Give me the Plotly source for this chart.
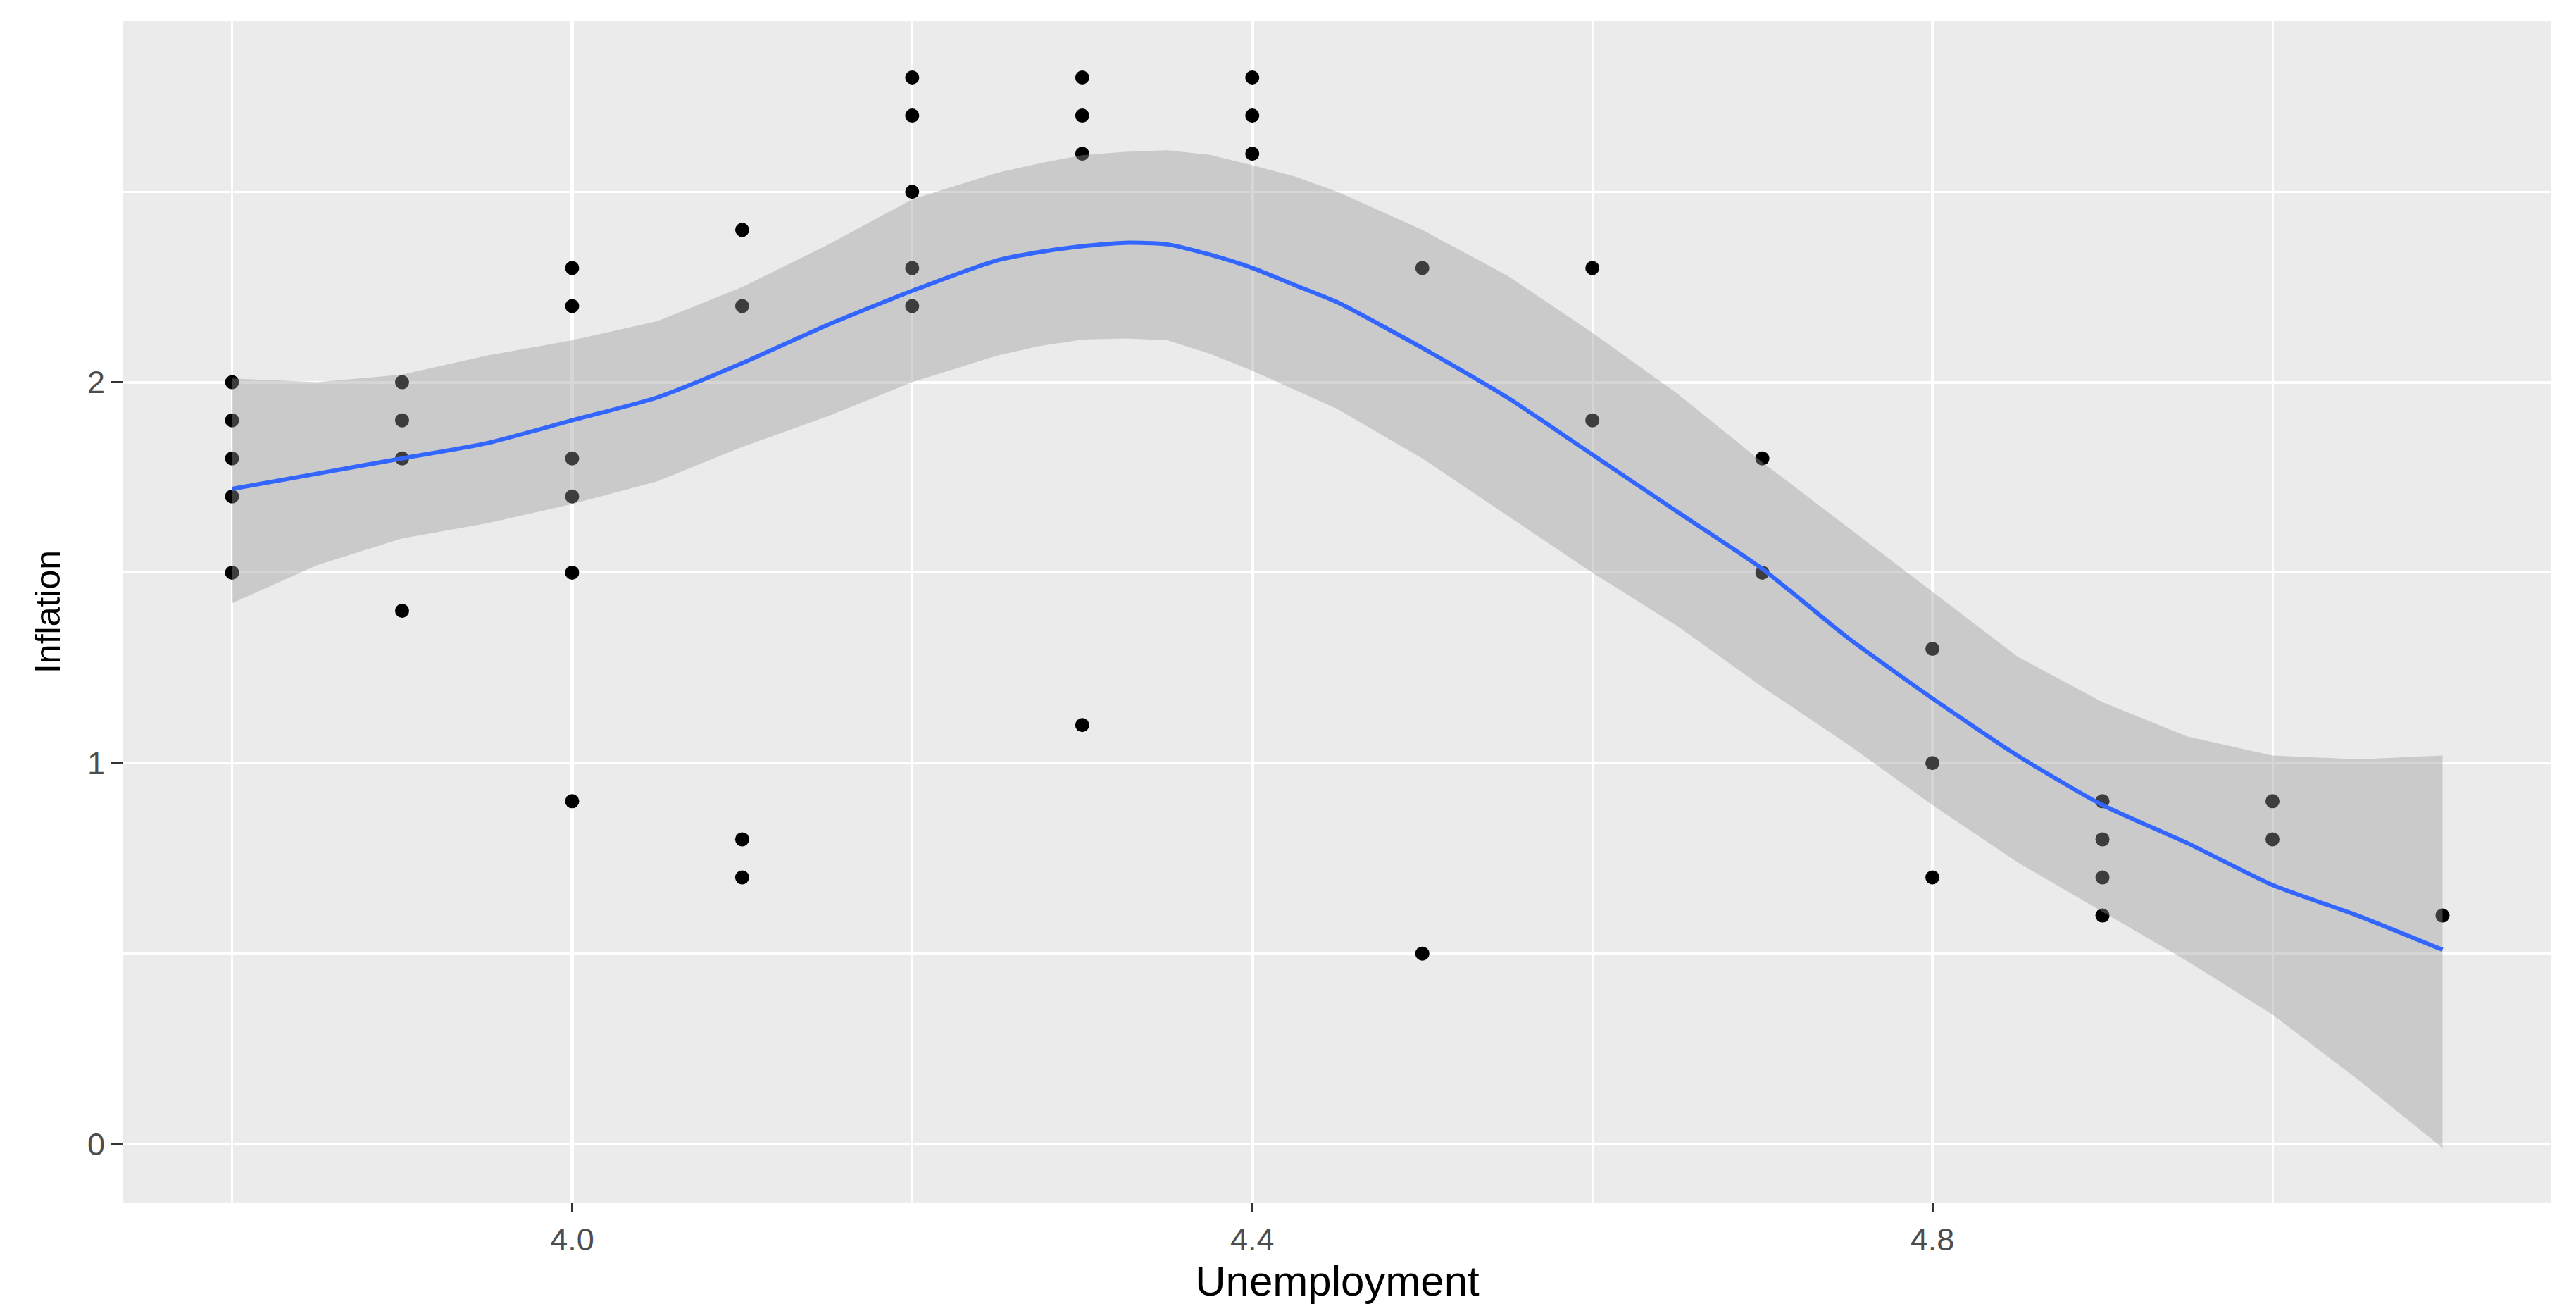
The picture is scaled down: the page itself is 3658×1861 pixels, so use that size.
import plotly.graph_objects as go

# Observed data points
unemployment = [3.8, 3.8, 3.8, 3.8, 3.8,
                3.9, 3.9, 3.9, 3.9,
                4.0, 4.0, 4.0, 4.0, 4.0, 4.0,
                4.1, 4.1, 4.1, 4.1,
                4.2, 4.2, 4.2, 4.2, 4.2,
                4.3, 4.3, 4.3, 4.3,
                4.4, 4.4, 4.4,
                4.5, 4.5,
                4.6, 4.6,
                4.7, 4.7,
                4.8, 4.8, 4.8,
                4.9, 4.9, 4.9, 4.9,
                5.0, 5.0,
                5.1]
inflation = [2.0, 1.9, 1.8, 1.7, 1.5,
             2.0, 1.9, 1.8, 1.4,
             2.3, 2.2, 1.8, 1.7, 1.5, 0.9,
             2.4, 2.2, 0.8, 0.7,
             2.8, 2.7, 2.5, 2.3, 2.2,
             2.8, 2.7, 2.6, 1.1,
             2.8, 2.7, 2.6,
             2.3, 0.5,
             2.3, 1.9,
             1.8, 1.5,
             1.3, 1.0, 0.7,
             0.9, 0.8, 0.7, 0.6,
             0.9, 0.8,
             0.6]

# Smoothed (loess) curve and confidence band
smooth_x = [3.80, 3.85, 3.90, 3.95, 4.00, 4.05, 4.10, 4.15, 4.20, 4.25, 4.275, 4.30, 4.325,
            4.35, 4.375, 4.40, 4.425, 4.45, 4.50, 4.55, 4.60, 4.65, 4.70, 4.75, 4.80, 4.85,
            4.90, 4.95, 5.00, 5.05, 5.10]
smooth_fit = [1.72, 1.76, 1.80, 1.84, 1.90, 1.96, 2.05, 2.15, 2.24, 2.32, 2.342, 2.357, 2.366,
              2.362, 2.335, 2.30, 2.255, 2.21, 2.09, 1.96, 1.81, 1.66, 1.51, 1.33, 1.17, 1.02,
              0.89, 0.79, 0.68, 0.60, 0.51]
smooth_upper = [2.01, 2.00, 2.02, 2.07, 2.11, 2.16, 2.25, 2.36, 2.48, 2.55, 2.575, 2.596, 2.605,
                2.609, 2.597, 2.57, 2.54, 2.50, 2.40, 2.28, 2.13, 1.97, 1.79, 1.62, 1.45, 1.28,
                1.16, 1.07, 1.02, 1.01, 1.02]
smooth_lower = [1.42, 1.52, 1.59, 1.63, 1.68, 1.74, 1.83, 1.91, 2.00, 2.07, 2.095, 2.112, 2.115,
                2.11, 2.075, 2.03, 1.98, 1.93, 1.80, 1.65, 1.50, 1.36, 1.20, 1.05, 0.89, 0.74,
                0.61, 0.48, 0.34, 0.17, -0.01]

x_ticks = [4.0, 4.4, 4.8]
x_tick_labels = ["4.0", "4.4", "4.8"]
y_ticks = [0, 1, 2]
y_tick_labels = ["0", "1", "2"]

fig = go.Figure()

fig.add_trace(go.Scatter(
    x=unemployment, y=inflation, mode="markers",
    marker=dict(color="black", size=20, line=dict(width=0)),
    showlegend=False, hoverinfo="x+y"))

fig.add_trace(go.Scatter(
    x=smooth_x + smooth_x[::-1],
    y=smooth_upper + smooth_lower[::-1],
    fill="toself", fillcolor="rgba(153,153,153,0.4)",
    mode="lines", line=dict(width=0, color="rgba(0,0,0,0)"),
    showlegend=False, hoverinfo="skip"))

fig.add_trace(go.Scatter(
    x=smooth_x, y=smooth_fit, mode="lines",
    line=dict(color="#3366FF", width=6, shape="spline", smoothing=0.6),
    showlegend=False))

font_family = "Liberation Sans, Arial, sans-serif"

fig.update_layout(
    width=3650, height=1853,
    paper_bgcolor="white", plot_bgcolor="#EBEBEB",
    margin=dict(l=167, r=35, t=22, b=154, autoexpand=False),
    font=dict(family=font_family, color="#4D4D4D"),
    xaxis=dict(
        range=[3.736, 5.164],
        tickmode="array", tickvals=x_ticks, ticktext=x_tick_labels,
        tickfont=dict(size=45, color="#4D4D4D", family=font_family),
        ticks="outside", ticklen=13, tickwidth=3, tickcolor="#333333",
        showgrid=True, gridcolor="white", gridwidth=4.5,
        minor=dict(tickmode="array", tickvals=[3.8, 4.2, 4.6, 5.0],
                   showgrid=True, gridcolor="white", gridwidth=2.5, ticks=""),
        zeroline=False, showline=False,
        title=dict(text="Unemployment", font=dict(size=60, color="black", family=font_family),
                   standoff=6),
    ),
    yaxis=dict(
        range=[-0.1535, 2.948],
        tickmode="array", tickvals=y_ticks, ticktext=y_tick_labels,
        tickfont=dict(size=45, color="#4D4D4D", family=font_family),
        ticks="outside", ticklen=16, tickwidth=3, tickcolor="#333333",
        showgrid=True, gridcolor="white", gridwidth=4,
        minor=dict(tickmode="array", tickvals=[0.5, 1.5, 2.5],
                   showgrid=True, gridcolor="white", gridwidth=2.5, ticks=""),
        zeroline=False, showline=False,
        title=dict(text="Inflation", font=dict(size=50, color="black", family=font_family),
                   standoff=22),
    ),
)

fig.write_html("out.html")
